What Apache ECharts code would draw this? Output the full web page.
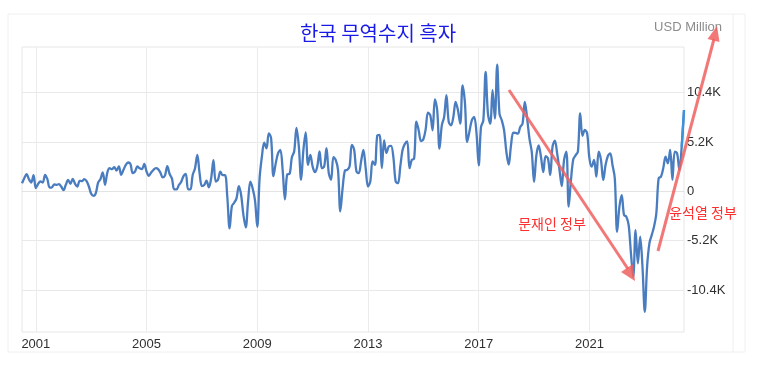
<!DOCTYPE html>
<html><head><meta charset="utf-8">
<script src="https://cdn.jsdelivr.net/npm/echarts@6/dist/echarts.min.js"></script>
<style>html,body{margin:0;padding:0;background:#fff}#c{width:762px;height:368px}</style>
</head><body><div id="c"></div>
<script>
const chartTitle = '한국 무역수지 흑자';
const unitLabel = 'USD Million';
const startYear = 2000, startMonth = 7;
// Monthly trade balance, USD million, from 2000-07
const balance = [
  860,1390,1810,1280,930,1710,
  330,790,1040,930,1740,1280,400,440,720,690,760,510,
  120,690,1210,790,1320,790,510,1110,1070,1280,1070,510,
  -260,-480,-190,930,1280,1990,690,1990,2440,2340,2550,2200,
  2620,1740,2270,2800,3040,2900,1920,2090,2620,2440,2340,2900,
  2090,1640,1990,2270,2440,2350,1970,1470,1690,2670,1830,1370,
  210,210,670,980,1610,1830,210,210,1720,2420,3830,1900,
  560,670,1120,420,1370,3300,1020,1260,2070,1720,1720,-570,
  -3910,-1550,-1200,-740,560,-390,-2500,-3800,-1090,1020,310,-920,
  -3730,1370,3650,5130,4530,6120,5590,1610,2950,4010,4360,2250,
  -850,1800,1850,3600,4200,6700,4800,1210,4380,6210,2800,3850,
  2620,2020,2620,4200,2440,2620,4560,1920,1210,3610,3320,2270,
  -2100,330,2200,2270,2620,4910,4380,2090,1920,3150,4380,2440,
  510,1040,3150,2800,5860,5960,2440,5360,4030,4730,4800,3610,
  1040,860,2620,4380,5010,5260,2440,3320,3450,7350,6400,5300,
  5490,6540,8300,8020,6440,9700,8550,4500,6960,7840,10130,7320,
  6960,7840,9430,8550,7140,11180,9430,5210,6330,7490,7840,6260,
  2740,6790,7490,12590,8200,7140,10660,7670,13370,8200,7490,6440,
  4150,2810,4850,6190,6160,6080,6790,7140,9430,7670,5560,4150,
  990,3800,4850,3620,2040,3700,3480,1720,4710,5350,4010,2320,
  560,3310,4190,-1620,1200,3380,3800,4190,8230,5840,6470,6120,
  3480,2600,3310,1550,4190,3310,1200,2780,3730,4010,2780,1370,
  -4260,-1620,-390,-2500,-2670,-3550,-6540,-9000,-4080,-7600,-4780,-7950,
  -12700,-7950,-5490,-4610,-3730,-2320,1370,1550,2430,3660,2950,4360,
  1200,4190,4010,2250,4710,8580
];
const yTicks = [-10400, -5200, 0, 5200, 10400];
const yTickLabels = ['-10.4K', '-5.2K', '0', '5.2K', '10.4K'];
const xLabelYears = [2001, 2005, 2009, 2013, 2017, 2021];
const noteMoon = '문재인 정부';
const noteYoon = '윤석열 정부';

const months = balance.map((_, i) => {
  const m = startMonth - 1 + i;
  return (startYear + Math.floor(m / 12)) + '-' + String(m % 12 + 1).padStart(2, '0');
});
const isYearTick = (idx, val) => {
  const p = String(val).split('-');
  return p[1] === '01' && xLabelYears.indexOf(+p[0]) >= 0;
};
const lastSeg = balance.map((v, i) => i >= balance.length - 2 ? v : null);

const arrowColor = 'rgba(240,96,96,0.85)';
const chart = echarts.init(document.getElementById('c'));
chart.setOption({
  animation: false,
  backgroundColor: '#ffffff',
  grid: { left: 22, right: 78, top: 47, bottom: 36, show: true, borderColor: '#e6e6e6', borderWidth: 1, backgroundColor: 'transparent' },
  xAxis: {
    type: 'category', data: months, boundaryGap: false,
    axisLine: { show: true, lineStyle: { color: '#e3e3e3' } },
    axisTick: { show: false },
    axisLabel: { interval: isYearTick, color: '#2f2f2f', fontFamily: 'Liberation Sans Narrow, Arial', fontSize: 13, margin: 6,
      formatter: v => v.split('-')[0] },
    splitLine: { show: true, interval: isYearTick, lineStyle: { color: '#ebebeb', width: 1 } }
  },
  yAxis: {
    type: 'value', position: 'right', min: -14830, max: 15220,
    axisLine: { show: false },
    axisTick: { show: false, customValues: yTicks },
    axisLabel: { customValues: yTicks, color: '#2f2f2f', fontFamily: 'Liberation Sans, Arial', fontSize: 13, margin: 3,
      formatter: v => yTickLabels[yTicks.indexOf(v)] },
    splitLine: { show: true, lineStyle: { color: '#e9e9e9', width: 1 } }
  },
  series: [
    { type: 'line', data: balance, smooth: 0.35, symbol: 'none', lineStyle: { color: '#4a7dbf', width: 2.3 }, z: 3 },
    { type: 'line', data: lastSeg, smooth: false, symbol: 'none', lineStyle: { color: '#3b93dc', width: 2.3 }, z: 4 }
  ],
  graphic: [
    { type: 'rect', shape: { x: 8, y: 14, width: 737, height: 338 }, style: { fill: 'none', stroke: '#f0f0f0', lineWidth: 1 }, z: -1, silent: true },
    { type: 'line', shape: { x1: 733, y1: 14, x2: 733, y2: 352 }, style: { stroke: '#eeeeee', lineWidth: 1 }, z: -1, silent: true },
    { type: 'text', x: 378, y: 33, style: { text: chartTitle, fill: '#1a1ae6', font: '20px "Noto Sans CJK KR"', align: 'center', verticalAlign: 'middle' } },
    { type: 'text', x: 722, y: 27, style: { text: unitLabel, fill: '#8c8c8c', font: '13px "Liberation Sans Narrow", Arial', align: 'right', verticalAlign: 'middle' } },
    { type: 'text', x: 552, y: 224, style: { text: noteMoon, fill: '#ff2d2d', font: '14px "Noto Sans CJK KR"', align: 'center', verticalAlign: 'middle' }, z: 10 },
    { type: 'text', x: 703, y: 213, style: { text: noteYoon, fill: '#ff2d2d', font: '14px "Noto Sans CJK KR"', align: 'center', verticalAlign: 'middle' }, z: 10 },
    { type: 'line', shape: { x1: 509, y1: 90, x2: 628, y2: 269 }, style: { stroke: arrowColor, lineWidth: 3 }, z: 10 },
    { type: 'polygon', shape: { points: [[635, 281], [621, 272], [633, 264]] }, style: { fill: arrowColor }, z: 10 },
    { type: 'line', shape: { x1: 658, y1: 251, x2: 714, y2: 39 }, style: { stroke: arrowColor, lineWidth: 3 }, z: 10 },
    { type: 'polygon', shape: { points: [[717, 26], [719.5, 42], [707.5, 39]] }, style: { fill: arrowColor }, z: 10 }
  ]
});
</script></body></html>
